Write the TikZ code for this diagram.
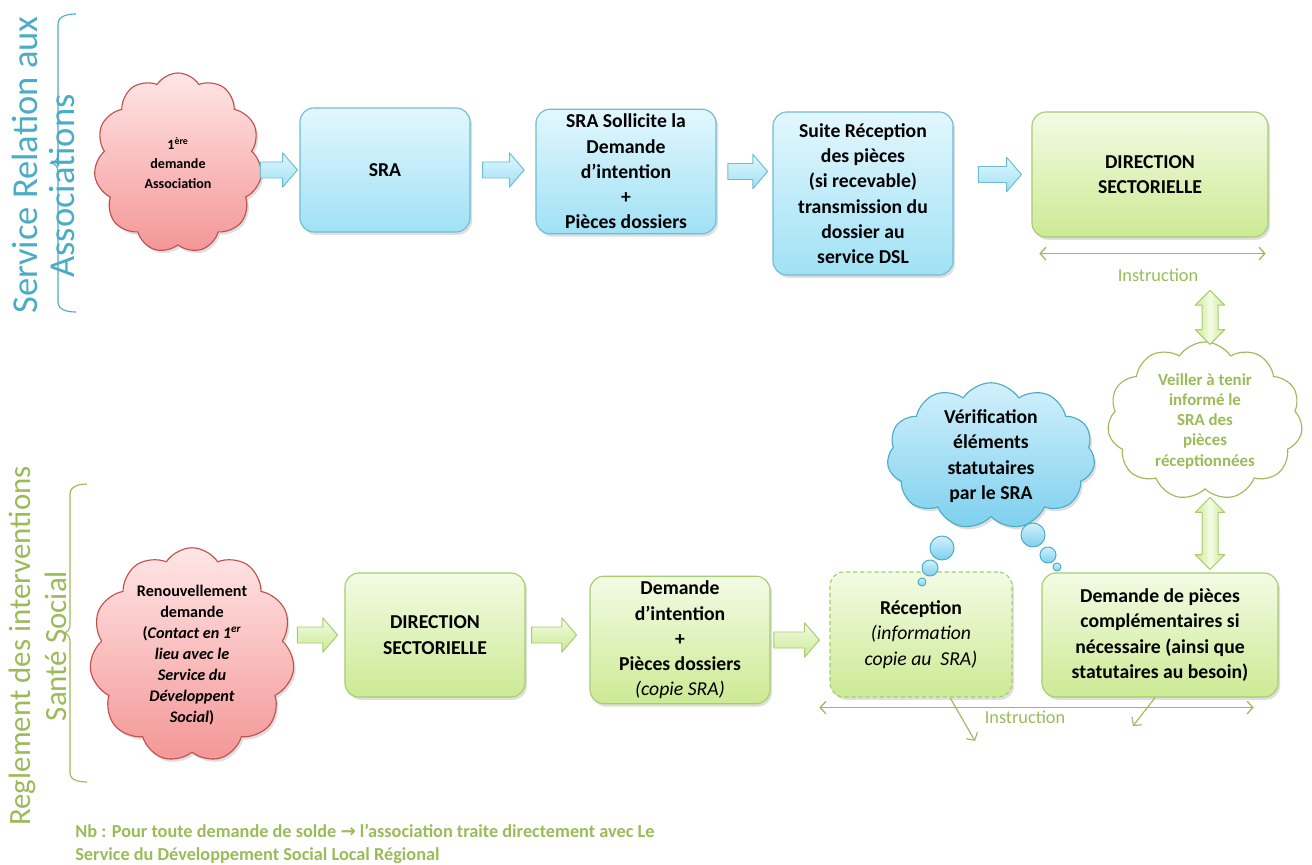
\documentclass[tikz,border=0pt]{standalone}
\usepackage{fontspec}
\setmainfont{Carlito}
\newfontfamily\symb{DejaVu Sans}
\usetikzlibrary{shapes.symbols,shadows,calc,arrows.meta,positioning}

\definecolor{bleuTexte}{RGB}{75,172,198}
\definecolor{vertTexte}{RGB}{155,187,89}
\definecolor{bleuHaut}{RGB}{226,247,253}
\definecolor{bleuBas}{RGB}{160,225,245}
\definecolor{bleuBord}{RGB}{110,188,212}
\definecolor{vertHaut}{RGB}{243,251,228}
\definecolor{vertBas}{RGB}{204,234,148}
\definecolor{vertBord}{RGB}{168,204,112}
\definecolor{rougeHaut}{RGB}{255,230,230}
\definecolor{rougeBas}{RGB}{244,150,150}
\definecolor{rougeBord}{RGB}{192,80,77}
\definecolor{nuageHaut}{RGB}{210,240,252}
\definecolor{nuageBas}{RGB}{125,208,238}

\begin{document}
\begin{tikzpicture}[x=0.025cm, y=-0.025cm, line join=round,
    >={Straight Barb[length=4pt,width=9pt]},
    ombre/.style={drop shadow={opacity=0.25, shadow xshift=0.05cm, shadow yshift=-0.07cm}},
    boite/.style={draw, rounded corners=0.35cm, align=center, line width=0.8pt, ombre,
      font=\bfseries\fontsize{14}{18}\selectfont},
    boitebleue/.style={boite, draw=bleuBord, top color=bleuHaut, bottom color=bleuBas},
    boiteverte/.style={boite, draw=vertBord, top color=vertHaut, bottom color=vertBas},
    nuage/.style={cloud, cloud puffs=11, cloud puff arc=115, cloud ignores aspect,
      align=center, line width=0.8pt, inner sep=0pt},
    nuagerouge/.style={nuage, ombre, draw=rougeBord, top color=rougeHaut, bottom color=rougeBas},
    bulle/.style={circle, inner sep=0pt, line width=0.7pt, draw=bleuTexte,
      top color=nuageHaut, bottom color=nuageBas},
    fleche/.style={line width=0.7pt, to path={let \p1=(\tikztostart), \p2=(\tikztotarget) in
        (\x1,\y1+0.2cm) -- (\x2-0.37cm,\y1+0.2cm) -- (\x2-0.37cm,\y1+0.43cm) -- (\x2,\y1)
        -- (\x2-0.37cm,\y1-0.43cm) -- (\x2-0.37cm,\y1-0.2cm) -- (\x1,\y1-0.2cm) -- cycle}},
    flechebleue/.style={fleche, draw=bleuBord, top color=bleuHaut, bottom color=bleuBas},
    flecheverte/.style={fleche, draw=vertBord, top color=vertHaut, bottom color=vertBas},
    flechedouble/.style={line width=0.7pt, draw=vertBord, left color=vertBas, right color=vertBas,
      middle color=vertHaut, to path={let \p1=(\tikztostart), \p2=(\tikztotarget) in
        (\x1,\y1) -- (\x1+0.37cm,\y1-0.37cm) -- (\x1+0.2cm,\y1-0.37cm) -- (\x1+0.2cm,\y2+0.37cm)
        -- (\x1+0.37cm,\y2+0.37cm) -- (\x1,\y2) -- (\x1-0.37cm,\y2+0.37cm) -- (\x1-0.2cm,\y2+0.37cm)
        -- (\x1-0.2cm,\y1-0.37cm) -- (\x1-0.37cm,\y1-0.37cm) -- cycle}},
    instruction/.style={draw=vertTexte, line width=0.9pt, <->},
    etiquette/.style={text=vertTexte, font=\fontsize{13}{15}\selectfont}]
  \useasboundingbox (0,0) rectangle (1312,865);

  % bandeau du haut : Service Relation aux Associations
  \node[rotate=90, text=bleuTexte, font=\fontsize{26}{26}\selectfont] (srvA) at (25,165) {Service Relation aux};
  \node[rotate=90, text=bleuTexte, font=\fontsize{26}{26}\selectfont] (srvB) at (62,186) {Associations};
  \draw[bleuTexte, line width=0.8pt] (76,14) to[out=180,in=90] (58,24) -- (58,155) to[out=-90,in=0] (50,163)
    to[out=0,in=90] (58,171) -- (58,302) to[out=-90,in=180] (76,312);

  \node[nuagerouge, minimum width=4.2cm, minimum height=4.5cm, font=\bfseries\fontsize{10}{14}\selectfont]
    (nuageA) at (178,163) {1\textsuperscript{ère}\\ demande\\ Association};
  \node[boitebleue, minimum width=4.25cm, minimum height=3.1cm] (sra) at (385,170) {SRA};
  \node[boitebleue, minimum width=4.5cm, minimum height=3.075cm] (sollicite) at (626,171.5)
    {SRA Sollicite la\\ Demande\\ d’intention\\ +\\ Pièces dossiers};
  \node[boitebleue, minimum width=4.5cm, minimum height=4.075cm] (suite) at (863,193.5)
    {Suite Réception\\ des pièces\\ (si recevable)\\ transmission du\\ dossier au\\ service DSL};
  \node[boiteverte, minimum width=5.9cm, minimum height=3.125cm] (dsA) at (1150,174.5)
    {DIRECTION\\ SECTORIELLE};

  \draw[flechebleue] (nuageA.east |- sra.west) to ([xshift=-0.05cm]sra.west);
  \draw[flechebleue] ([xshift=0.3cm]sra.east) to ([xshift=-0.28cm]sra.east -| sollicite.west);
  \draw[flechebleue] ([xshift=0.28cm]sollicite.east) to ([xshift=-0.12cm]sollicite.east -| suite.west);
  \draw[flechebleue] ([xshift=0.62cm]suite.east |- dsA.west) to ([xshift=-0.25cm]dsA.west);

  \coordinate (instrAg) at ($(dsA.south west)+(8,16)$);
  \coordinate (instrAd) at ($(dsA.south east)+(-3,16)$);
  \draw[instruction] (instrAg) -- (instrAd);
  \node[etiquette] (instrA) at (1158,275) {Instruction};

  \node[nuage, draw=vertTexte, fill=white, text=vertTexte, minimum width=4.875cm, minimum height=3.95cm,
    font=\bfseries\fontsize{12}{14.4}\selectfont] (veiller) at (1205,421)
    {Veiller à tenir\\ informé le\\ SRA des\\ pièces\\ réceptionnées};

  % bandeau du bas : Reglement des interventions Santé Social
  \node[rotate=90, align=center, text=vertTexte, font=\fontsize{22}{26}\selectfont] (regl) at (38,646)
    {Reglement des interventions\\ Santé Social};
  \draw[vertTexte, line width=0.8pt] (87,484) to[out=180,in=90] (70,494) -- (70,625) to[out=-90,in=0] (63,633)
    to[out=0,in=90] (70,641) -- (70,773) to[out=-90,in=180] (87,782);

  \node[nuagerouge, minimum width=5.125cm, minimum height=4.5cm, font=\bfseries\fontsize{11.5}{15}\selectfont]
    (nuageC) at (192,655) {Renouvellement\\ demande\\ (\textit{Contact en 1\textsuperscript{er}}\\
    \textit{lieu avec le}\\ \textit{Service du}\\ \textit{Développent}\\ \textit{Social})};
  \node[boiteverte, minimum width=4.5cm, minimum height=3.1cm] (dsB) at (435,635) {DIRECTION\\ SECTORIELLE};
  \node[boiteverte, minimum width=4.5cm, minimum height=3.1cm] (intention) at (680,640)
    {Demande\\ d’intention\\ +\\ Pièces dossiers\\ {\mdseries\itshape (copie SRA)}};
  \node[boiteverte, dashed, dash pattern=on 3pt off 2pt, minimum width=4.55cm, minimum height=3.125cm]
    (recep) at (921,634.5) {Réception\\ {\mdseries\itshape (information}\\ {\mdseries\itshape copie au~~SRA)}};
  \node[boiteverte, minimum width=5.9cm, minimum height=3.1cm] (compl) at (1160,635)
    {Demande de pièces\\ complémentaires si\\ nécessaire (ainsi que\\ statutaires au besoin)};

  \draw[flecheverte] ([xshift=0.12cm]nuageC.east |- dsB.west) to ([xshift=-0.17cm]dsB.west);
  \draw[flecheverte] ([xshift=0.15cm]dsB.east) to ([xshift=-0.32cm]dsB.east -| intention.west);
  \draw[flecheverte] ([xshift=0.08cm]intention.east) to ([xshift=-0.25cm]intention.east -| recep.west);

  % nuage de vérification et ses bulles
  \node[nuage, ombre, draw=bleuTexte, top color=nuageHaut, bottom color=nuageBas, minimum width=5.2cm,
    minimum height=3.4cm, font=\bfseries\fontsize{14}{18}\selectfont] (verif) at (991,456)
    {Vérification\\ éléments\\ statutaires\\ par le SRA};
  \node[bulle, minimum size=0.6cm] (bulleG1) at (942,548) {};
  \node[bulle, minimum size=0.4cm] (bulleG2) at (930,568) {};
  \node[bulle, minimum size=0.2cm] (bulleG3) at (922,582) {};
  \node[bulle, minimum size=0.6cm] (bulleD1) at (1033,535) {};
  \node[bulle, minimum size=0.4cm] (bulleD2) at (1048,555) {};
  \node[bulle, minimum size=0.2cm] (bulleD3) at (1057,567) {};

  \coordinate (axeV) at (1210,0);
  \draw[flechedouble] ($(axeV |- instrA.south)+(0,4)$) to ($(axeV |- veiller.north)+(0,3)$);
  \draw[flechedouble] ($(axeV |- veiller.south)+(0,8)$) to ($(axeV |- compl.north)+(0,-3)$);

  \coordinate (instrBg) at ($(recep.south west)+(-10,10)$);
  \coordinate (instrBd) at ($(compl.south east)+(-25,10)$);
  \draw[instruction] (instrBg) -- (instrBd);
  \node[etiquette] (instrB) at (1025,717) {Instruction};
  \coordinate (finA) at (975,741);
  \coordinate (finB) at (1133,726);
  \draw[vertTexte, line width=0.8pt, ->] ($(recep.south)+(29,0)$) -- (finA);
  \draw[vertTexte, line width=0.8pt, ->] ($(compl.south)+(-5,0)$) -- (finB);

  \node[anchor=west, align=left, inner xsep=0pt, text=vertTexte, font=\bfseries\fontsize{13}{16.3}\selectfont]
    (note) at (75,843.5)
    {Nb : Pour toute demande de solde {\symb\bfseries →} l’association traite directement avec Le\\
    Service du Développement Social Local Régional};
\end{tikzpicture}
\end{document}
